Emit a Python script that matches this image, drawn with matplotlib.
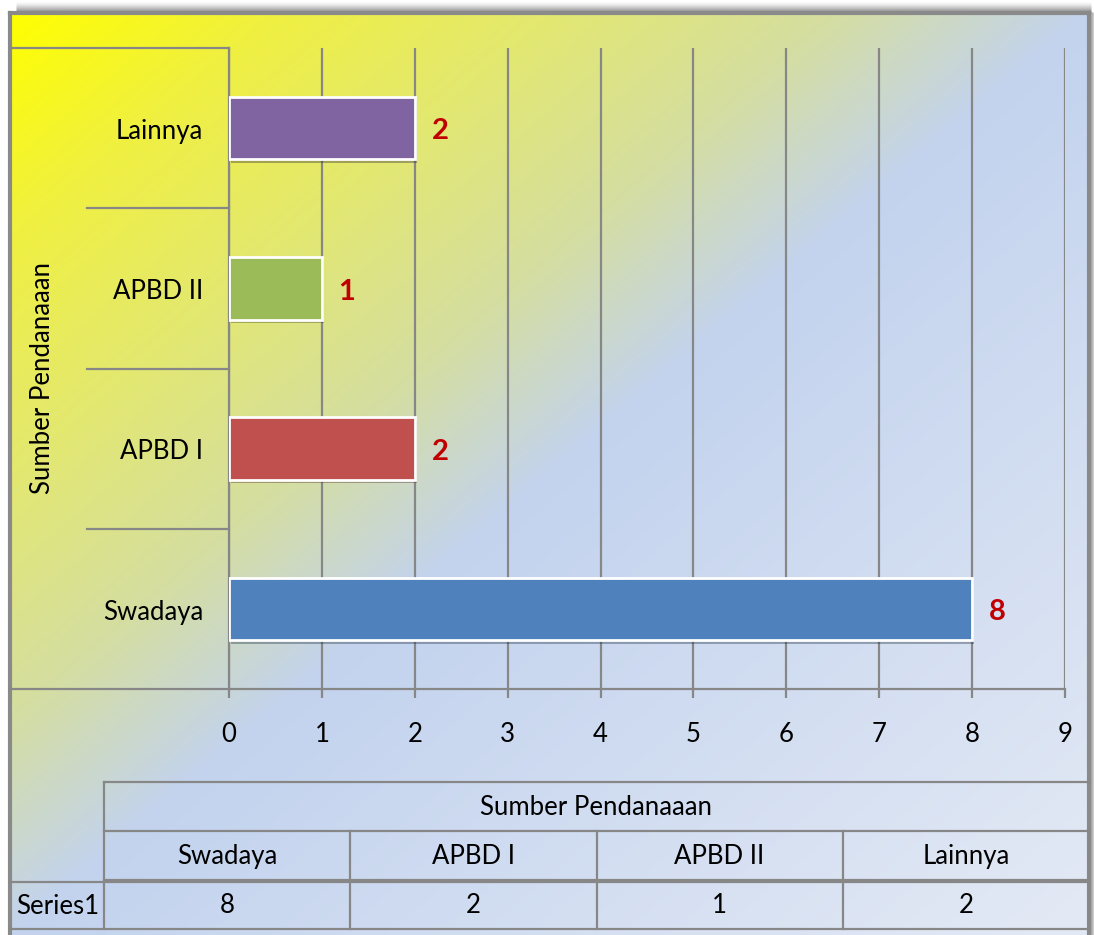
import numpy as np
import matplotlib.pyplot as plt
import matplotlib.patheffects as pe
from matplotlib.colors import to_rgb
from matplotlib.transforms import blended_transform_factory

# Data
categories = ["Swadaya", "APBD I", "APBD II", "Lainnya"]
values = [8, 2, 1, 2]
bar_colors = ["#4F81BD", "#C0504D", "#9BBB59", "#8064A2"]
series_name = "Series1"
axis_title = "Sumber Pendanaaan"
x_ticks = list(range(0, 10))

plt.rcParams['font.family'] = ['Lato', 'DejaVu Sans']
FS = 18.5
GRID = "#878787"

W, H = 1094, 935
fig = plt.figure(figsize=(W / 100, H / 100), dpi=100)
fig.patch.set_facecolor("white")

# background overlay in pixel coordinates
bg = fig.add_axes([0, 0, 1, 1], zorder=0)
bg.set_xlim(0, W)
bg.set_ylim(H, 0)
bg.axis("off")

# diagonal gradient yellow -> light blue -> pale blue
L, T, R, B = 10, 13, 1089, 935
yy, xx = np.mgrid[0:B - T, 0:R - L]
t = (xx / (R - L) + yy / (B - T)) / 2
stops = [0.0, 0.12, 0.25, 0.38, 0.5, 1.0]
cols = [to_rgb(c) for c in ["#FFFF00", "#F0F040", "#E3E870", "#D5DEA0", "#C3D3EE", "#E4EAF5"]]
img = np.zeros(t.shape + (3,))
for c in range(3):
    img[..., c] = np.interp(t, stops, [col[c] for col in cols])
bg.imshow(img, extent=[L, R, B, T], aspect="auto", interpolation="bilinear")

# drop shadow of the frame
for i in range(11):
    a = 0.38 * (1 - i / 11) ** 1.5
    bg.plot([L + 6, R + 2], [T - 1.5 - i, T - 1.5 - i], color="black", alpha=a, lw=1.0, solid_capstyle="butt")
for i in range(5):
    a = 0.3 * (1 - i / 5) ** 1.5
    bg.plot([R + 2 + i, R + 2 + i], [T - 1, B], color="black", alpha=a, lw=1.0, solid_capstyle="butt")

# outer frame
for xs, ys in [([L, L], [T, B]), ([L, R], [T, T]), ([R, R], [T, B])]:
    bg.plot(xs, ys, color="#8A8A8A", lw=3)

# main plot area
px0, px1, py0, py1 = 229, 1065, 48, 689
ax = fig.add_axes([px0 / W, 1 - py1 / H, (px1 - px0) / W, (py1 - py0) / H], zorder=2)
ax.patch.set_alpha(0)
n = len(categories)
ypos = np.arange(n)
bars = ax.barh(ypos, values, height=0.39, color=bar_colors, edgecolor="white", linewidth=2, zorder=3)
for b in bars:
    b.set_path_effects([pe.SimplePatchShadow(offset=(1.5, -2.5), alpha=0.35), pe.Normal()])
for y, v in zip(ypos, values):
    ax.text(v + 0.18, y - 0.02, str(v), color="#C00000", fontsize=21, fontweight="bold",
            va="center", ha="left", zorder=4)

ax.set_xlim(0, 9)
ax.set_ylim(-0.5, n - 0.5)
ax.set_xticks(x_ticks)
ax.set_xticklabels([str(v) for v in x_ticks], fontsize=FS)
ax.set_yticks([])
ax.grid(axis="x", color=GRID, lw=1.6, zorder=1)
ax.tick_params(axis="x", length=6.5, width=1.6, color=GRID, pad=17)
for s in ["top", "right"]:
    ax.spines[s].set_visible(False)
for s in ["left", "bottom"]:
    ax.spines[s].set_color(GRID)
    ax.spines[s].set_linewidth(1.6)

# category axis: labels and separators
tr = blended_transform_factory(bg.transData, ax.transData)
for y, c in zip(ypos, categories):
    bg.text(203, y - 0.02, c, transform=tr, ha="right", va="center", fontsize=FS)
for k in range(n + 1):
    yb = k - 0.5
    x_start = L if k in (0, n) else 87
    bg.plot([x_start, px0], [yb, yb], transform=tr, color=GRID, lw=1.6)
bg.text(43, (py0 + py1) / 2 + 10, axis_title, rotation=90, ha="center", va="center", fontsize=FS)

# data table below
tx0, tx1, ty0, ty1 = 104, 1089, 782, 929
tab = fig.add_axes([tx0 / W, 1 - ty1 / H, (tx1 - tx0) / W, (ty1 - ty0) / H], zorder=2)
tab.set_xlim(0, n)
tab.set_ylim(3, 0)
tab.axis("off")
for r in [0, 1, 2]:
    tab.plot([0, n], [r, r], color=GRID, lw=1.6, clip_on=False)
tab.plot([0, 0], [0, 3], color=GRID, lw=1.6, clip_on=False)
tab.text(n / 2, 0.52, axis_title, ha="center", va="center", fontsize=FS)
for i, (c, v) in enumerate(zip(categories, values)):
    tab.plot([i + 1, i + 1], [1, 3], color=GRID, lw=1.6, clip_on=False)
    tab.text(i + 0.5, 1.52, c, ha="center", va="center", fontsize=FS)
    tab.text(i + 0.5, 2.52, str(v), ha="center", va="center", fontsize=FS)

# row header and bottom line
bg.plot([L, R], [882, 882], color=GRID, lw=1.6, zorder=3)
bg.plot([L, R], [929, 929], color=GRID, lw=1.6, zorder=3)
bg.text((L + tx0) / 2 + 1, 906, series_name, ha="center", va="center", fontsize=FS)

fig.savefig("out.png", dpi=100)
